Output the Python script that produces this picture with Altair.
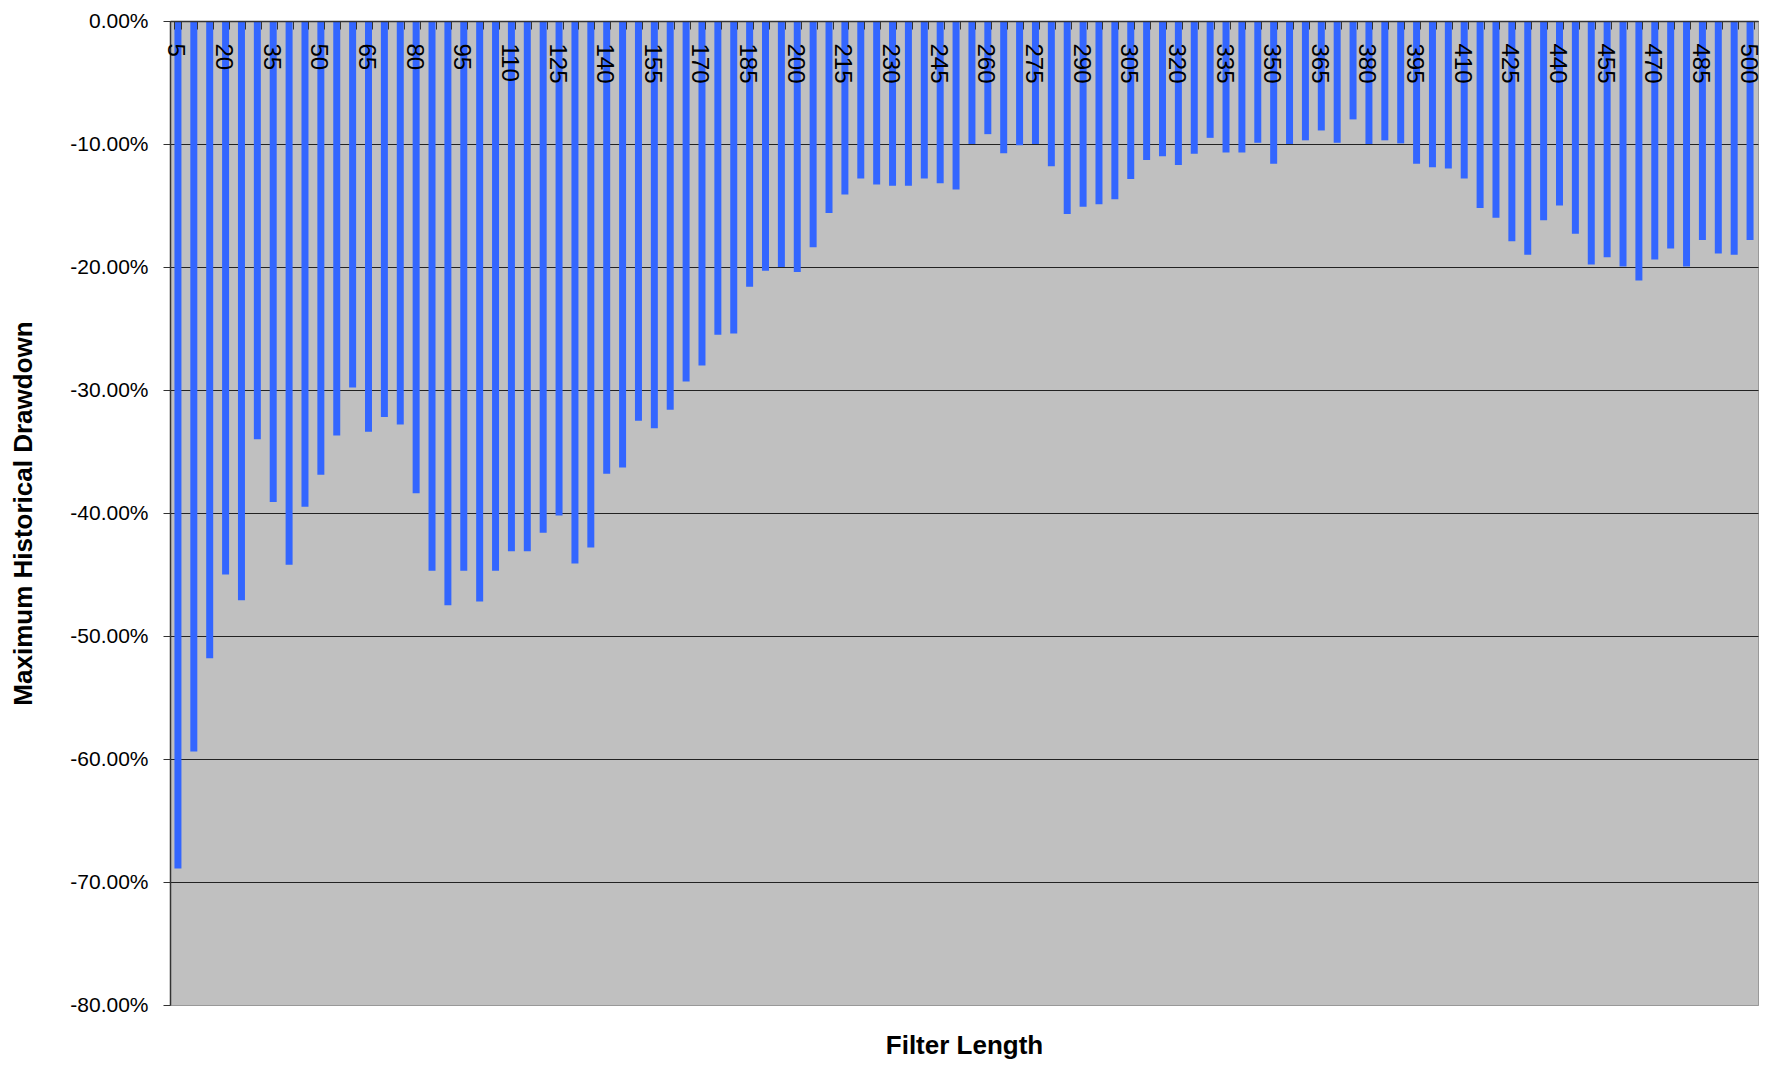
import altair as alt
import pandas as pd

lengths = list(range(5, 505, 5))
drawdown = [
    -68.9, -59.4, -51.8, -45.0, -47.1, -34.0, -39.1, -44.2, -39.5, -36.9,
    -33.7, -29.8, -33.4, -32.2, -32.8, -38.4, -44.7, -47.5, -44.7, -47.2,
    -44.7, -43.1, -43.1, -41.6, -40.2, -44.1, -42.8, -36.8, -36.3, -32.5,
    -33.1, -31.6, -29.3, -28.0, -25.5, -25.4, -21.6, -20.3, -20.0, -20.4,
    -18.4, -15.6, -14.1, -12.8, -13.3, -13.4, -13.4, -12.8, -13.2, -13.7,
    -10.0, -9.2, -10.75, -10.1, -10.0, -11.8, -15.7, -15.1, -14.9, -14.5,
    -12.85, -11.3, -11.0, -11.7, -10.8, -9.5, -10.7, -10.7, -9.9, -11.6,
    -10.0, -9.7, -8.9, -9.9, -8.0, -10.0, -9.7, -9.95, -11.6, -11.9,
    -12.0, -12.8, -15.2, -16.0, -17.9, -19.0, -16.2, -15.0, -17.3, -19.8,
    -19.2, -19.95, -21.1, -19.4, -18.5, -19.95, -17.8, -18.9, -19.0, -17.8,
]
y_ticks = [0, -10, -20, -30, -40, -50, -60, -70, -80]

df = pd.DataFrame({"length": lengths, "drawdown": drawdown})

W, H = 1588, 984
TOP = 13
FONT = "Liberation Sans"

chart = alt.Chart(df).mark_bar(color="#3366FF").encode(
    x=alt.X(
        "length:O",
        scale=alt.Scale(paddingInner=0.56, paddingOuter=0.28),
        axis=alt.Axis(
            orient="bottom",
            offset=-H,
            title="Filter Length",
            titleY=1045 - TOP,
            titleBaseline="alphabetic",
            titleFont=FONT,
            titleFontSize=26,
            titleFontWeight="bold",
            titleColor="#000000",
            labelAngle=90,
            labelAlign="left",
            labelBaseline="middle",
            labelFont=FONT,
            labelFontSize=24,
            labelColor="#000000",
            labelPadding=14,
            labelOffset=-3,
            labelOverlap=False,
            labelExpr="(datum.value - 5) % 15 == 0 ? datum.label : ''",
            tickSize=8,
            tickBand="extent",
            tickColor="#333333",
            domainColor="#333333",
            domainWidth=1.5,
            grid=False,
            zindex=1,
        ),
    ),
    y=alt.Y(
        "drawdown:Q",
        scale=alt.Scale(domain=[-80, 0], nice=False),
        axis=alt.Axis(
            values=y_ticks,
            labelExpr="(datum.value < 0 ? '-' : '') + format(abs(datum.value), '.2f') + '%'",
            labelFont=FONT,
            labelFontSize=21,
            labelColor="#000000",
            labelPadding=15,
            tickSize=7,
            tickColor="#333333",
            domainColor="#333333",
            domainWidth=1.5,
            grid=True,
            gridColor={"condition": {"test": "datum.value <= -80", "value": "#999999"}, "value": "#222222"},
            gridWidth=1,
            title="Maximum Historical Drawdown",
            titleX=-147,
            titleBaseline="middle",
            titleFont=FONT,
            titleFontSize=26,
            titleFontWeight="bold",
            titleColor="#000000",
        ),
    ),
).properties(
    width=W,
    height=H,
    autosize=alt.AutoSizeParams(type="none"),
    padding={"left": 162, "top": TOP, "right": 4, "bottom": 54},
    background="#ffffff",
).configure_view(
    fill="#C0C0C0",
    stroke="#999999",
    strokeWidth=1,
)

chart.save("out.html", embed_options={"renderer": "svg", "actions": False})
